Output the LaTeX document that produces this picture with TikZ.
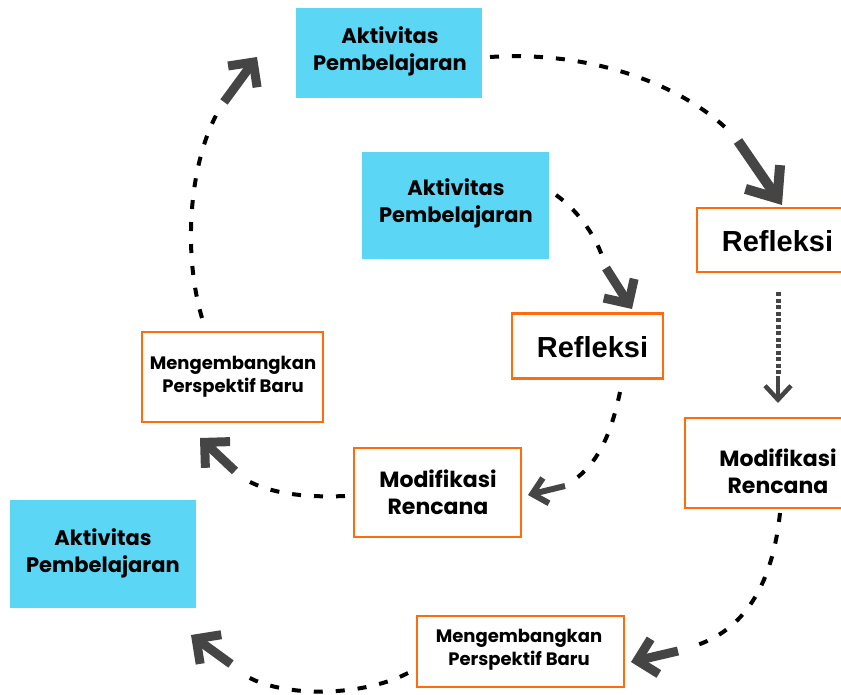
\documentclass[tikz,border=0pt]{standalone}
\usepackage{fontspec}
\setmainfont{Liberation Sans}
\newfontfamily\geo{Poppins}
\usetikzlibrary{arrows.meta}
\definecolor{boxblue}{RGB}{91,215,245}
\definecolor{boxorange}{RGB}{255,108,12}
\definecolor{shaftgray}{RGB}{69,69,69}
\tikzset{
  bluebox/.style={fill=boxblue, draw=none, inner sep=0pt},
  orangebox/.style={fill=white, draw=boxorange, line width=2.6pt, inner sep=0pt},
  akt/.style={align=center, inner sep=0pt, font=\geo\bfseries\fontsize{21}{27}\selectfont},
  mgb/.style={align=center, inner sep=0pt, font=\geo\bfseries\fontsize{18}{23}\selectfont},
  mod/.style={align=center, inner sep=0pt, font=\geo\bfseries\fontsize{22}{27}\selectfont},
  refl/.style={inner sep=0pt, font=\bfseries\fontsize{29}{34}\selectfont},
  dashline/.style={black, line width=4pt, dash pattern=on 9pt off 13pt},
  dotline/.style={shaftgray, line width=5pt, dash pattern=on 4pt off 2.5pt},
  bigshaft/.style={shaftgray, line width=9pt, -{Straight Barb[length=18pt,width=36pt]}},
  hugeshaft/.style={shaftgray, line width=10pt, -{Straight Barb[length=26pt,width=42pt]}},
  smallshaft/.style={shaftgray, line width=6pt, -{Straight Barb[length=14pt,width=26pt]}}
}
\begin{document}
\begin{tikzpicture}[x=1pt,y=-1pt]
\useasboundingbox (0,0) rectangle (841,695);
\clip (0,0) rectangle (841,695);
% nodes
\node[bluebox, minimum width=186pt, minimum height=90pt] (a1) at (389,53) {};
\node[akt] (a1t) at (390,51) {Aktivitas\\Pembelajaran};
\node[bluebox, minimum width=187pt, minimum height=107pt] (a2) at (455.5,205.5) {};
\node[akt] (a2t) at (456,203) {Aktivitas\\Pembelajaran};
\node[bluebox, minimum width=186pt, minimum height=108pt] (a3) at (103,554) {};
\node[akt] (a3t) at (103,553) {Aktivitas\\Pembelajaran};
\node[orangebox, minimum width=162pt, minimum height=64pt] (r1) at (778,240) {};
\node[refl] (r1t) at (777.5,241) {Refleksi};
\node[orangebox, minimum width=151pt, minimum height=65pt] (r2) at (587.5,346) {};
\node[refl] (r2t) at (592.5,347) {Refleksi};
\node[orangebox, minimum width=181pt, minimum height=90pt] (p1) at (232.5,377) {};
\node[mgb] (p1t) at (233,377) {Mengembangkan\\Perspektif Baru};
\node[orangebox, minimum width=167pt, minimum height=89pt] (m1) at (437.5,492.5) {};
\node[mod] (m1t) at (438,492) {Modifikasi\\Rencana};
\node[orangebox, minimum width=186pt, minimum height=90pt] (m2) at (778,463) {};
\node[mod] (m2t) at (778,471) {Modifikasi\\Rencana};
\node[orangebox, minimum width=207pt, minimum height=71pt] (p2) at (520.5,651.5) {};
\node[mgb] (p2t) at (519,650) {Mengembangkan\\Perspektif Baru};
% connector coordinates
\coordinate (c1s) at (490,57);   \coordinate (c1m) at (733,135);
\coordinate (c1a) at (738,141);  \coordinate (c1t) at (782,205);
\coordinate (c2s) at (556,195);  \coordinate (c2m) at (604,262);
\coordinate (c2a) at (606,268);  \coordinate (c2t) at (632,309);
\coordinate (c3s) at (778,292);  \coordinate (c3m) at (778,376);
\coordinate (c3t) at (778,403);
\coordinate (c4s) at (620,392);  \coordinate (c4m) at (574,480);
\coordinate (c4a) at (565,486);  \coordinate (c4t) at (528,495);
\coordinate (c5s) at (345,496);  \coordinate (c5m) at (243,478);
\coordinate (c5a) at (235,471);  \coordinate (c5t) at (200,438);
\coordinate (c6s) at (202,318);  \coordinate (c6m) at (219,110);
\coordinate (c6a) at (224,102);  \coordinate (c6t) at (257,57);
\coordinate (c7s) at (780,513);  \coordinate (c7m) at (687,648);
\coordinate (c7a) at (678,651);  \coordinate (c7t) at (631,662);
\coordinate (c8s) at (408,673);  \coordinate (c8m) at (240,672);
\coordinate (c8a) at (231,664);  \coordinate (c8t) at (191,635);
% connectors
\draw[dashline] (c1s) .. controls (600,50) and (690,90) .. (c1m);
\draw[hugeshaft] (c1a) -- (c1t);
\draw[dashline] (c2s) .. controls (580,212) and (598,240) .. (c2m);
\draw[bigshaft] (c2a) -- (c2t);
\draw[dotline] (c3s) -- (c3m);
\draw[smallshaft, line width=4.5pt] (c3m) -- (c3t);
\draw[dashline] (c4s) .. controls (610,440) and (595,465) .. (c4m);
\draw[smallshaft] (c4a) -- (c4t);
\draw[dashline] (c5s) .. controls (300,498) and (265,492) .. (c5m);
\draw[bigshaft] (c5a) -- (c5t);
\draw[dashline] (c6s) .. controls (182,250) and (190,160) .. (c6m);
\draw[bigshaft] (c6a) -- (c6t);
\draw[dashline] (c7s) .. controls (772,590) and (740,635) .. (c7m);
\draw[bigshaft] (c7a) -- (c7t);
\draw[dashline] (c8s) .. controls (360,698) and (275,698) .. (c8m);
\draw[bigshaft] (c8a) -- (c8t);
\end{tikzpicture}
\end{document}
